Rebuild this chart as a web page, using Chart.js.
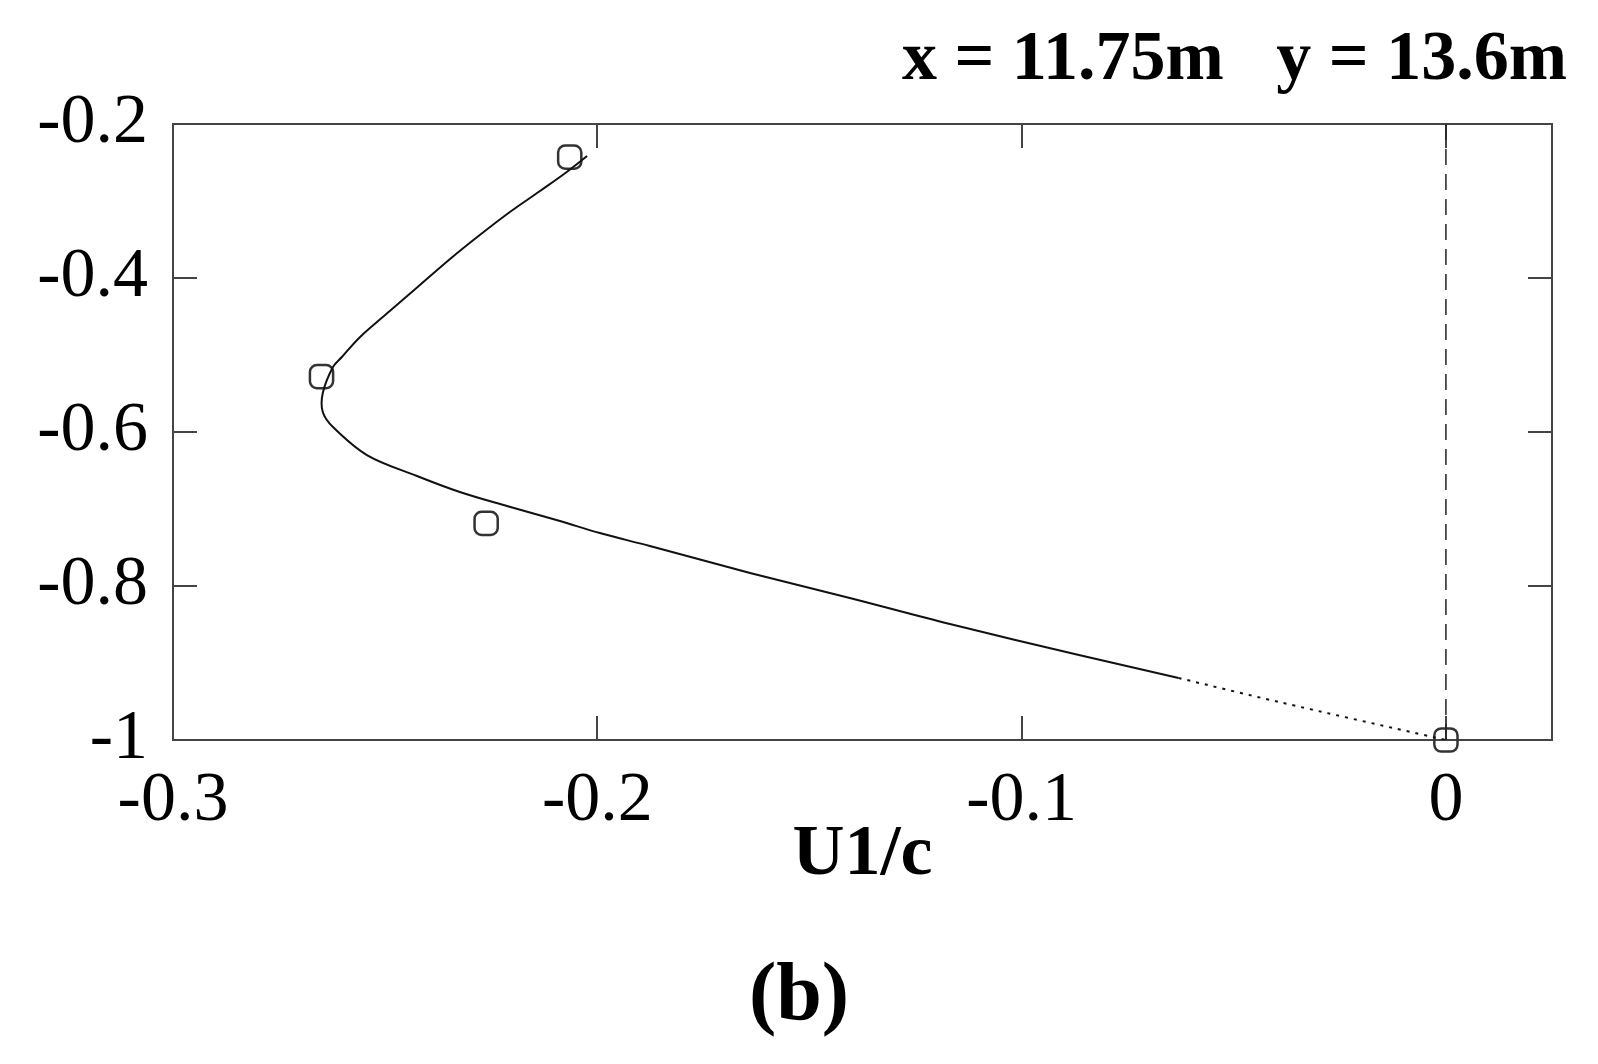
<!DOCTYPE html>
<html>
<head>
<meta charset="utf-8">
<script src="https://cdn.jsdelivr.net/npm/chart.js@4.4.0/dist/chart.umd.min.js"></script>
<style>
  body { margin: 0; background: #fff; }
  #wrap { position: relative; width: 1598px; height: 1064px; }
  #label-b {
    position: absolute; left: 0; width: 1598px; top: 951px;
    text-align: center; font: bold 82px "Liberation Serif", serif; line-height: 1;
    color: #000;
  }
</style>
</head>
<body>
<div id="wrap">
  <canvas id="profileChart"></canvas>
  <div id="label-b">(b)</div>
</div>
<script>
// measured points (open squares)
const measuredU = [-0.2065, -0.265, -0.2262, 0];
const measuredZ = [-0.243, -0.528, -0.7186, -1];

// computed profile, solid part
const curveU = [-0.2024, -0.2072, -0.2135, -0.2206, -0.2277, -0.2347, -0.2418, -0.2489, -0.2559, -0.2602,
  -0.2623, -0.2647, -0.2647, -0.2623, -0.2543, -0.2425, -0.2324, -0.2213, -0.2088, -0.1994,
  -0.1876, -0.164, -0.1405, -0.1169, -0.0865, -0.063];
const curveZ = [-0.2416, -0.2623, -0.287, -0.3143, -0.3442, -0.3753, -0.4091, -0.4429, -0.4766, -0.5026,
  -0.5156, -0.5494, -0.574, -0.5935, -0.6299, -0.6571, -0.6779, -0.6961, -0.7156, -0.7312,
  -0.7481, -0.7831, -0.8156, -0.8494, -0.8896, -0.9195];

// computed profile, dotted tail near the bed
const tailU = [-0.063, -0.0394, -0.0024, 0];
const tailZ = [-0.9195, -0.9506, -0.997, -1];

// zero line
const zeroU = [0, 0];
const zeroZ = [-0.2, -1];

const xTickValues = [-0.3, -0.2, -0.1, 0];
const xTickLabels = ["-0.3", "-0.2", "-0.1", "0"];
const yTickValues = [-1, -0.8, -0.6, -0.4, -0.2];
const yTickLabels = ["-1", "-0.8", "-0.6", "-0.4", "-0.2"];

const headerText = "x = 11.75m   y = 13.6m";
const xTitle = "U1/c";

const pts = (xs, ys) => xs.map((v, i) => ({ x: v, y: ys[i] }));

const axisColor = "#444";
const tickFont = { family: "Liberation Serif", size: 70 };

const gridOpts = {
  drawOnChartArea: false,
  drawTicks: true,
  tickLength: -24,
  color: axisColor,
  lineWidth: 2
};
const borderOpts = { display: true, color: axisColor, width: 2 };

const ctx = document.getElementById("profileChart").getContext("2d");
new Chart(ctx, {
  type: "scatter",
  data: {
    datasets: [
      {
        data: pts(zeroU, zeroZ),
        showLine: true,
        borderColor: "#222",
        borderWidth: 1.5,
        borderDash: [16, 9],
        pointRadius: 0
      },
      {
        data: pts(curveU, curveZ),
        showLine: true,
        borderColor: "#111",
        borderWidth: 2,
        tension: 0.35,
        pointRadius: 0
      },
      {
        data: pts(tailU, tailZ),
        showLine: true,
        borderColor: "#111",
        borderWidth: 2,
        borderDash: [3, 6],
        tension: 0.3,
        pointRadius: 0
      },
      {
        data: pts(measuredU, measuredZ),
        showLine: false,
        pointStyle: "rectRounded",
        pointRadius: 13.5,
        pointBorderWidth: 2.5,
        pointBorderColor: "#333",
        pointBackgroundColor: "rgba(0,0,0,0)",
        clip: false
      }
    ]
  },
  options: {
    responsive: true,
    maintainAspectRatio: false,
    animation: false,
    layout: { padding: { top: 0, left: 0, right: 31, bottom: 164 } },
    plugins: {
      legend: { display: false },
      tooltip: { enabled: false },
      title: {
        display: true,
        text: headerText,
        align: "end",
        color: "#000",
        font: { family: "Liberation Serif", size: 70, weight: "bold", lineHeight: 1.2 },
        padding: { top: 19, bottom: 21 }
      }
    },
    scales: {
      x: {
        type: "linear",
        position: "bottom",
        min: -0.3,
        max: 0.025,
        afterBuildTicks: s => { s.ticks = xTickValues.map(v => ({ value: v })); },
        afterFit: s => { s.height = 160; },
        ticks: {
          font: tickFont,
          color: "#000",
          padding: 44,
          maxRotation: 0,
          autoSkip: false,
          callback: (v, i) => xTickLabels[i]
        },
        grid: gridOpts,
        border: borderOpts,
        title: {
          display: true,
          text: xTitle,
          color: "#000",
          font: { family: "Liberation Serif", size: 72, weight: "bold", lineHeight: 1.2 },
          padding: { top: 0, bottom: 1 }
        }
      },
      x2: {
        type: "linear",
        position: "top",
        min: -0.3,
        max: 0.025,
        afterBuildTicks: s => { s.ticks = xTickValues.map(v => ({ value: v })); },
        afterFit: s => { s.height = 0; },
        ticks: { display: false },
        grid: gridOpts,
        border: borderOpts
      },
      y: {
        type: "linear",
        position: "left",
        min: -1,
        max: -0.2,
        afterBuildTicks: s => { s.ticks = yTickValues.map(v => ({ value: v })); },
        afterFit: s => { s.width = 173; },
        ticks: {
          font: tickFont,
          color: "#000",
          padding: 49,
          autoSkip: false,
          callback: (v, i) => yTickLabels[i]
        },
        grid: gridOpts,
        border: borderOpts
      },
      y2: {
        type: "linear",
        position: "right",
        min: -1,
        max: -0.2,
        afterBuildTicks: s => { s.ticks = yTickValues.map(v => ({ value: v })); },
        afterFit: s => { s.width = 15; },
        ticks: { display: false },
        grid: gridOpts,
        border: borderOpts
      }
    }
  }
});
</script>
</body>
</html>
